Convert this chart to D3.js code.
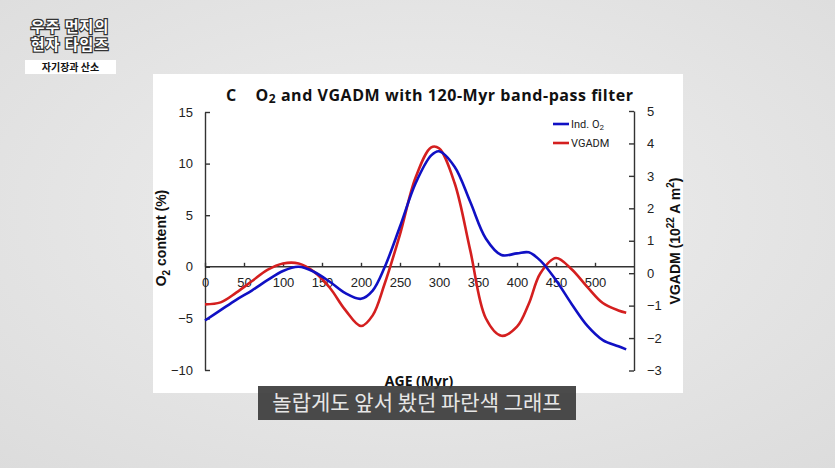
<!DOCTYPE html>
<html>
<head>
<meta charset="utf-8">
<script src="https://cdn.jsdelivr.net/npm/d3@7"></script>
<style>
  body { margin: 0; background: #e6e6e6; }
  svg { display: block; }
  .tick text { font-family: "Liberation Sans", Arial, sans-serif; font-size: 13px; fill: #222; }
  .axis path, .axis line { stroke: #333; stroke-width: 1.4px; }
</style>
</head>
<body>
<div id="chart"></div>
<script>
// Data
const ages = [0, 20, 40, 60, 80, 100, 120, 140, 160, 180, 200, 215, 230, 250, 270, 290, 300, 320, 340, 360, 380, 400, 415, 430, 450, 470, 490, 510, 530, 540];
const o2Values = [-5.2, -4.2, -3.2, -2.3, -1.3, -0.4, 0.0, -0.5, -1.45, -2.55, -3.1, -2.3, -0.1, 3.9, 8.1, 10.8, 11.2, 9.7, 6.3, 2.75, 1.15, 1.3, 1.4, 0.6, -1.3, -3.6, -5.7, -7.1, -7.7, -8.0];
const vgadmValues = [-0.96, -0.9, -0.6, -0.25, 0.1, 0.3, 0.3, 0.04, -0.45, -1.14, -1.63, -1.3, -0.35, 1.2, 2.95, 3.88, 3.85, 2.78, 0.71, -1.39, -1.93, -1.65, -0.95, 0.0, 0.47, 0.12, -0.42, -0.92, -1.15, -1.22];
const xTicks = [0, 50, 100, 150, 200, 250, 300, 350, 400, 450, 500];
const leftTicks = [-10, -5, 0, 5, 10, 15];
const rightTicks = [-3, -2, -1, 0, 1, 2, 3, 4, 5];

const W = 835, H = 468;

let svg = d3.select("#chart").append("svg")
    .attr("width", W)
    .attr("height", H);

// Paper-like background
let defs = svg.append("defs");
let bg = defs.append("radialGradient").attr("id", "paper").attr("cx", "50%").attr("cy", "45%").attr("r", "75%");
bg.append("stop").attr("offset", "0%").attr("stop-color", "#efefef");
bg.append("stop").attr("offset", "100%").attr("stop-color", "#dcdcdc");
svg.append("rect").attr("width", W).attr("height", H).attr("fill", "url(#paper)");

// White chart panel
svg.append("rect")
    .attr("x", 153).attr("y", 74)
    .attr("width", 530).attr("height", 319)
    .attr("fill", "#ffffff");

// Scales
let x = d3.scaleLinear().domain([0, 550]).range([205, 634]);
let yL = d3.scaleLinear().domain([-10, 15]).range([370, 112]);
let yR = d3.scaleLinear().domain([-3, 5]).range([370.5, 111]);

const minus = d => d < 0 ? "\u2212" + Math.abs(d) : d;

// Left axis
svg.append("g")
    .attr("class", "axis")
    .attr("transform", "translate(205,0)")
    .call(d3.axisLeft(yL).tickValues(leftTicks).tickFormat(minus)
        .tickSize(-5).tickSizeOuter(0).tickPadding(12));

// Right axis
svg.append("g")
    .attr("class", "axis")
    .attr("transform", "translate(634,0)")
    .call(d3.axisRight(yR).tickValues(rightTicks).tickFormat(minus)
        .tickSize(-5).tickSizeOuter(0).tickPadding(13));

// X axis along O2 = 0
let xAxisEl = svg.append("g")
    .attr("class", "axis")
    .attr("transform", "translate(0," + yL(0) + ")")
    .call(d3.axisBottom(x).tickValues(xTicks).tickSize(-4).tickSizeOuter(0).tickPadding(11));
xAxisEl.select(".domain").attr("d", "M" + x(0) + ",0H" + x(550));

// Lines
let lineL = d3.line().x((d, i) => x(ages[i])).y(d => yL(d)).curve(d3.curveCatmullRom);
let lineR = d3.line().x((d, i) => x(ages[i])).y(d => yR(d)).curve(d3.curveCatmullRom);

svg.append("path")
    .datum(vgadmValues)
    .attr("d", lineR)
    .attr("fill", "none")
    .attr("stroke", "#d41f1f")
    .attr("stroke-width", 2.6);

svg.append("path")
    .datum(o2Values)
    .attr("d", lineL)
    .attr("fill", "none")
    .attr("stroke", "#1010c4")
    .attr("stroke-width", 2.6);

// Title
let title = svg.append("text")
    .attr("x", 226).attr("y", 101)
    .style("white-space", "pre")
    .attr("font-family", "'Open Sans', Roboto, sans-serif")
    .attr("font-weight", "bold")
    .attr("font-size", 16)
    .attr("fill", "#111");
title.append("tspan").text("C    O");
title.append("tspan").attr("font-size", 12).attr("dy", 2).text("2");
title.append("tspan").attr("dy", -2).text(" and VGADM with 120-Myr band-pass filter");
title.attr("textLength", 407).attr("lengthAdjust", "spacing");

// Axis titles
let yLabel = svg.append("text")
    .attr("transform", "translate(166,238) rotate(-90)")
    .attr("text-anchor", "middle")
    .attr("font-family", "'Liberation Sans', Arial, sans-serif")
    .attr("font-weight", "bold")
    .attr("font-size", 14)
    .attr("fill", "#111");
yLabel.append("tspan").text("O");
yLabel.append("tspan").attr("font-size", 10).attr("dy", 4).text("2");
yLabel.append("tspan").attr("dy", -4).text(" content (%)");

let yRLabel = svg.append("text")
    .attr("transform", "translate(680,241) rotate(-90)")
    .attr("text-anchor", "middle")
    .attr("font-family", "'Liberation Sans', Arial, sans-serif")
    .attr("font-weight", "bold")
    .attr("font-size", 14)
    .attr("fill", "#111");
yRLabel.append("tspan").text("VGADM (10");
yRLabel.append("tspan").attr("font-size", 10).attr("dy", -6).text("22");
yRLabel.append("tspan").attr("dy", 6).text(" A m");
yRLabel.append("tspan").attr("font-size", 10).attr("dy", -6).text("2");
yRLabel.append("tspan").attr("dy", 6).text(")");

svg.append("text")
    .attr("x", 419).attr("y", 386)
    .attr("text-anchor", "middle")
    .attr("font-family", "'Open Sans', Roboto, sans-serif")
    .attr("font-weight", "bold")
    .attr("font-size", 14)
    .attr("fill", "#111")
    .text("AGE (Myr)");

// Legend
const legendItems = [
    { label: "Ind. O", sub: "2", color: "#1010c4" },
    { label: "VGADM", sub: "", color: "#d41f1f" }
];
let legend = svg.append("g").attr("transform", "translate(553,124)");
legendItems.forEach((d, i) => {
    let g = legend.append("g").attr("transform", "translate(0," + (i * 19) + ")");
    g.append("line").attr("x1", 0).attr("x2", 16).attr("stroke", d.color).attr("stroke-width", 2.6);
    let t = g.append("text").attr("x", 18).attr("y", 4)
        .attr("font-family", "Roboto, 'Liberation Sans', sans-serif")
        .attr("font-size", 11).attr("fill", "#222");
    t.append("tspan").text(d.label);
    if (d.sub) t.append("tspan").attr("font-size", 8).attr("dy", 2).text(d.sub);
});

// Channel logo (top left)
const logoLines = ["우주 먼지의", "현자 타임즈"];
svg.selectAll(".logo")
    .data(logoLines)
    .join("text")
    .attr("class", "logo")
    .attr("x", 70).attr("y", (d, i) => 32 + i * 18)
    .attr("text-anchor", "middle")
    .attr("font-family", "'Noto Sans CJK KR', sans-serif")
    .attr("font-weight", "bold")
    .attr("font-size", 15)
    .attr("letter-spacing", 1)
    .attr("fill", "#ffffff")
    .attr("stroke", "#333")
    .attr("stroke-width", 2.4)
    .attr("paint-order", "stroke")
    .text(d => d);

svg.append("rect").attr("x", 25).attr("y", 60).attr("width", 91).attr("height", 14).attr("fill", "#ffffff");
svg.append("text")
    .attr("x", 70.5).attr("y", 71)
    .attr("text-anchor", "middle")
    .attr("font-family", "'Noto Sans CJK KR', sans-serif")
    .attr("font-weight", "bold")
    .attr("font-size", 10)
    .attr("fill", "#111")
    .text("자기장과 산소");

// Subtitle caption
svg.append("rect")
    .attr("x", 258).attr("y", 386)
    .attr("width", 318).attr("height", 34)
    .attr("fill", "rgba(60,60,60,0.92)");
svg.append("text")
    .attr("x", 417).attr("y", 410)
    .attr("text-anchor", "middle")
    .attr("font-family", "'Noto Sans CJK KR', sans-serif")
    .attr("font-size", 21)
    .attr("fill", "#e6e6e6")
    .text("놀랍게도 앞서 봤던 파란색 그래프");
</script>
</body>
</html>
